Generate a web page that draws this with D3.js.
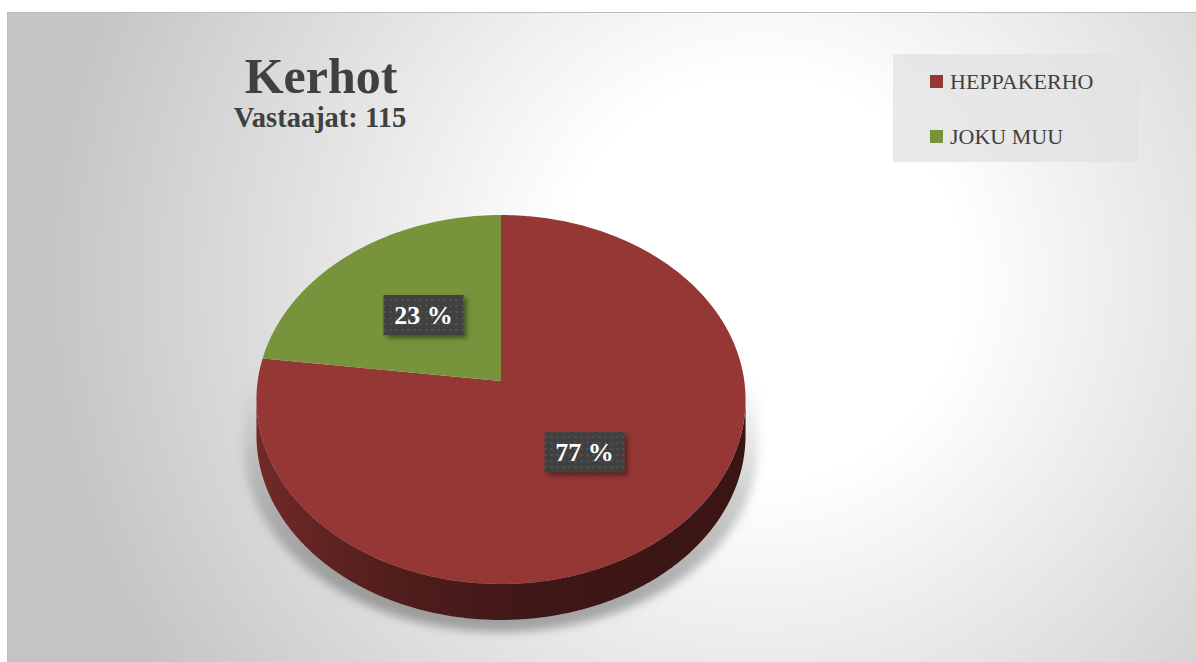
<!DOCTYPE html>
<html><head><meta charset="utf-8">
<script src="https://cdn.jsdelivr.net/npm/d3@7"></script>
<style>html,body{margin:0;padding:0;background:#fff;}svg{display:block;}</style>
</head><body>
<svg id="chart" width="1196" height="662"></svg>
<script>
const categories = ["HEPPAKERHO", "JOKU MUU"];
const values = [77, 23];
const colors = ["#953735", "#77933C"];
const titleText = "Kerhot";
const subtitleText = "Vastaajat: 115";

const W = 1196, H = 662;
const svg = d3.select("#chart");
const defs = svg.append("defs");
const serif = "'Liberation Serif', 'DejaVu Serif', serif";

// background gradient
const bg = defs.append("radialGradient").attr("id", "bg").attr("gradientUnits", "userSpaceOnUse")
  .attr("cx", 760).attr("cy", 280).attr("r", 720).attr("fx", 760).attr("fy", 280);
bg.append("stop").attr("offset", 0).attr("stop-color", "#ffffff");
bg.append("stop").attr("offset", 0.28).attr("stop-color", "#ffffff");
bg.append("stop").attr("offset", 1).attr("stop-color", "#c4c4c4");

svg.append("rect").attr("x", 7.5).attr("y", 12.5).attr("width", W - 7).attr("height", H - 12)
  .attr("fill", "url(#bg)").attr("stroke", "#bdbdbd").attr("stroke-width", 1);

// perspective disk projection
const cx = 501, cy = 381, a = 243.3, b = 182.6, k = 0.1003, depth = 36;
function proj(t, r, dy) {
  const u = r * Math.sin(t), v = -r * Math.cos(t);
  const den = 1 - k * v;
  return [cx + a * u / den, cy + b * v / den + (dy || 0)];
}
function arcPts(t0, t1, r, dy) {
  const n = Math.max(8, Math.ceil(Math.abs(t1 - t0) / 0.01));
  return d3.range(n + 1).map(i => proj(t0 + (t1 - t0) * i / n, r, dy));
}
const line = d3.line();

const pie = d3.pie().sort(null).value(d => d)(values);
const total = d3.sum(values);

const tL = 2 * Math.PI - Math.acos(-k), tR = Math.acos(-k);

// shadow
const shFilter = defs.append("filter").attr("id", "shblur").attr("x", "-20%").attr("y", "-20%").attr("width", "140%").attr("height", "140%");
shFilter.append("feGaussianBlur").attr("stdDeviation", 5);
const shGrad = defs.append("linearGradient").attr("id", "shgrad").attr("gradientUnits", "userSpaceOnUse")
  .attr("x1", 0).attr("y1", 380).attr("x2", 0).attr("y2", 600);
shGrad.append("stop").attr("offset", 0).attr("stop-color", "#000").attr("stop-opacity", 0);
shGrad.append("stop").attr("offset", 0.5).attr("stop-color", "#000").attr("stop-opacity", 0.18);
shGrad.append("stop").attr("offset", 1).attr("stop-color", "#000").attr("stop-opacity", 0.3);
svg.append("path")
  .attr("d", line(arcPts(tR, tL, 1.0, depth + 12).map(p => [cx + (p[0] - cx) * 1.05, p[1]])
    .concat([[cx - a * 1.06, 380], [cx + a * 1.06, 380]])) + "Z")
  .attr("fill", "url(#shgrad)").attr("filter", "url(#shblur)");

// side
const sideGrad = defs.append("linearGradient").attr("id", "side").attr("gradientUnits", "userSpaceOnUse")
  .attr("x1", cx - a).attr("y1", 0).attr("x2", cx + a).attr("y2", 0);
sideGrad.append("stop").attr("offset", 0).attr("stop-color", "#702927");
sideGrad.append("stop").attr("offset", 0.3).attr("stop-color", "#4f1d1c");
sideGrad.append("stop").attr("offset", 0.6).attr("stop-color", "#3e1716");
sideGrad.append("stop").attr("offset", 1).attr("stop-color", "#3a1514");
svg.append("path")
  .attr("d", line(arcPts(tR, tL, 1, 0).concat(arcPts(tL, tR, 1, depth))) + "Z")
  .attr("fill", "url(#side)");

// top slices
const apex = proj(0, 0, 0);
svg.append("g").selectAll("path").data(pie).join("path")
  .attr("d", d => line([apex].concat(arcPts(d.startAngle, d.endAngle, 1, 0))) + "Z")
  .attr("fill", (d, i) => colors[i]);

// labels
const pat = defs.append("pattern").attr("id", "dots").attr("patternUnits", "userSpaceOnUse")
  .attr("width", 6).attr("height", 6);
pat.append("rect").attr("width", 6).attr("height", 6).attr("fill", "#404040");
pat.append("rect").attr("x", 2).attr("y", 2).attr("width", 2).attr("height", 2).attr("fill", "#545454");
const ds = defs.append("filter").attr("id", "lblsh").attr("x", "-30%").attr("y", "-30%").attr("width", "160%").attr("height", "160%");
ds.append("feDropShadow").attr("dx", 3).attr("dy", 3).attr("stdDeviation", 2.5)
  .attr("flood-color", "#000").attr("flood-opacity", 0.45);

const lbl = svg.append("g").selectAll("g").data(pie).join("g")
  .attr("transform", d => {
    const p = proj((d.startAngle + d.endAngle) / 2, 0.5, 0);
    return `translate(${p[0]},${p[1]})`;
  });
lbl.append("rect").attr("x", -40).attr("y", -20).attr("width", 80).attr("height", 40)
  .attr("fill", "url(#dots)").attr("filter", "url(#lblsh)");
lbl.append("text").attr("text-anchor", "middle").attr("y", 9)
  .attr("font-family", serif).attr("font-weight", "bold").attr("font-size", 26)
  .attr("fill", "#ffffff")
  .text(d => Math.round(d.value / total * 100) + " %");

// title
svg.append("text").attr("x", 321).attr("y", 93).attr("text-anchor", "middle")
  .attr("font-family", serif).attr("font-weight", "bold").attr("font-size", 50)
  .attr("fill", "#404040").text(titleText);
svg.append("text").attr("x", 320).attr("y", 127).attr("text-anchor", "middle")
  .attr("font-family", serif).attr("font-weight", "bold").attr("font-size", 28.5)
  .attr("fill", "#404040").text(subtitleText);

// legend
const lg = svg.append("g");
lg.append("rect").attr("x", 893).attr("y", 54).attr("width", 246).attr("height", 108)
  .attr("fill", "#e2e2e2").attr("opacity", 0.75);
const li = lg.selectAll("g").data(categories).join("g")
  .attr("transform", (d, i) => `translate(930,${75 + i * 55})`);
li.append("rect").attr("width", 13).attr("height", 13).attr("fill", (d, i) => colors[i]);
li.append("text").attr("x", 20).attr("y", 14)
  .attr("font-family", serif).attr("font-size", 22).attr("fill", "#404040").text(d => d);
</script>
</body></html>
